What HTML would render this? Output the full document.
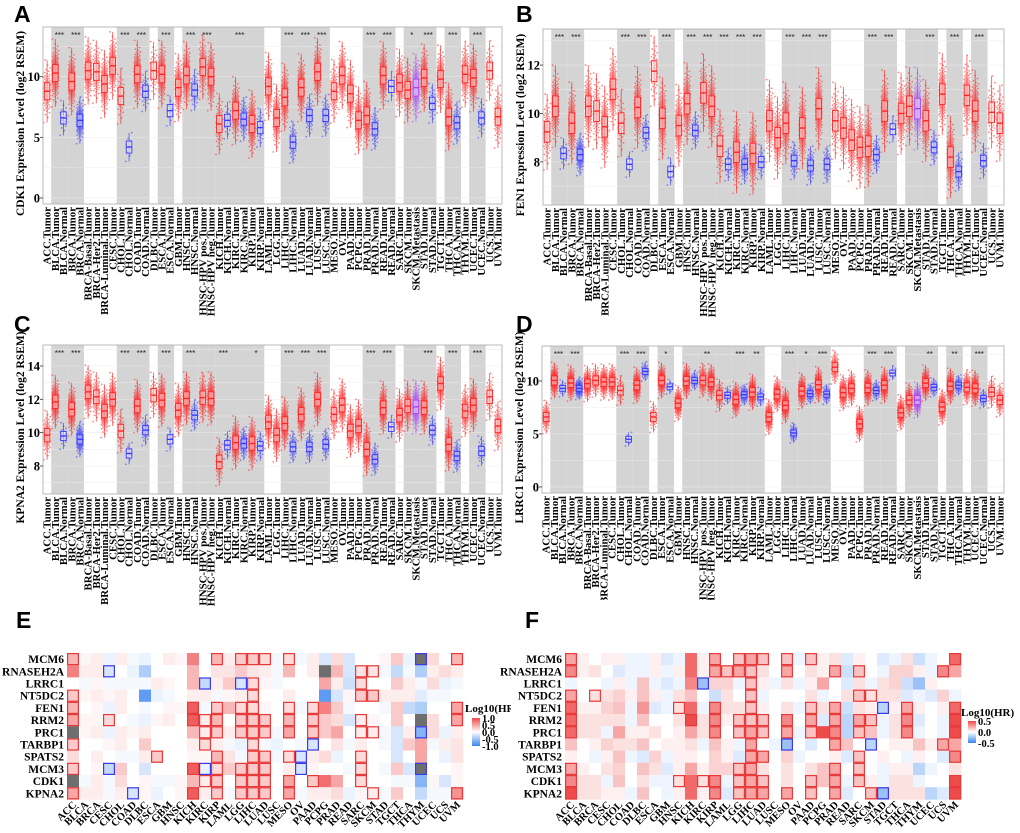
<!DOCTYPE html>
<html><head><meta charset="utf-8"><style>
html,body{margin:0;padding:0;background:#fff;}
svg{display:block;}
.lab{font-family:"Liberation Serif",serif;font-weight:bold;}
.pl{font-family:"Liberation Sans",sans-serif;font-weight:bold;font-size:23px;}
</style></head><body>
<svg id="fig" width="1020" height="833" viewBox="0 0 1020 833" xmlns="http://www.w3.org/2000/svg">
<rect width="1020" height="833" fill="#fff"/>
</svg>
<script>
const cats=["ACC.Tumor","BLCA.Tumor","BLCA.Normal","BRCA.Tumor","BRCA.Normal","BRCA-Basal.Tumor","BRCA-Her2.Tumor","BRCA-Luminal.Tumor","CESC.Tumor","CHOL.Tumor","CHOL.Normal","COAD.Tumor","COAD.Normal","DLBC.Tumor","ESCA.Tumor","ESCA.Normal","GBM.Tumor","HNSC.Tumor","HNSC.Normal","HNSC-HPV pos.Tumor","HNSC-HPV neg.Tumor","KICH.Tumor","KICH.Normal","KIRC.Tumor","KIRC.Normal","KIRP.Tumor","KIRP.Normal","LAML.Tumor","LGG.Tumor","LIHC.Tumor","LIHC.Normal","LUAD.Tumor","LUAD.Normal","LUSC.Tumor","LUSC.Normal","MESO.Tumor","OV.Tumor","PAAD.Tumor","PCPG.Tumor","PRAD.Tumor","PRAD.Normal","READ.Tumor","READ.Normal","SARC.Tumor","SKCM.Tumor","SKCM.Metastasis","STAD.Tumor","STAD.Normal","TGCT.Tumor","THCA.Tumor","THCA.Normal","THYM.Tumor","UCEC.Tumor","UCEC.Normal","UCS.Tumor","UVM.Tumor"];
const nSamples=[79,408,19,1093,112,190,82,566,304,36,9,457,41,48,184,11,153,520,44,97,421,66,25,533,72,290,32,173,516,371,50,515,59,501,51,87,303,178,179,497,52,166,10,259,103,368,415,35,150,501,59,120,545,35,57,80];
const medA=[8.8,10.3,6.6,9.6,6.4,10.5,10.4,9.4,10.9,8.4,4.2,10.2,8.8,10.5,10.2,7.2,9.1,10.1,8.9,10.8,10.0,6.1,6.4,7.2,6.5,6.1,5.8,9.2,6.6,8.3,4.6,9.1,6.8,10.4,6.8,8.8,10.1,8.6,6.4,6.8,5.7,10.1,9.2,9.5,8.9,9.1,9.9,7.8,9.8,6.7,6.2,10.2,9.9,6.6,10.5,6.7];
const medB=[9.24,10.3,8.35,9.6,8.3,10.3,10.1,9.45,11.0,9.6,7.9,10.25,9.2,11.75,9.8,7.6,9.5,10.4,9.3,10.85,10.3,8.65,7.9,8.4,7.9,8.35,8.0,9.7,9.0,9.6,8.05,9.4,7.85,10.2,7.9,9.7,9.4,8.9,8.6,8.65,8.3,10.1,9.35,10.0,10.3,10.2,9.7,8.6,10.8,8.2,7.6,10.75,10.1,8.05,10.05,9.6];
const medC=[9.85,11.85,9.8,11.4,9.6,12.45,12.15,11.3,12.0,10.1,8.75,11.6,10.15,12.25,11.95,9.6,11.35,12.05,11.05,12.1,12.05,8.25,9.25,9.4,9.35,9.35,9.2,10.65,9.85,10.55,9.15,11.1,9.15,12.0,9.3,11.1,11.65,10.1,10.4,9.0,8.4,11.5,10.35,11.05,11.6,11.55,11.5,10.15,12.95,9.3,8.6,11.3,11.65,8.9,12.15,10.4];
const medD=[6.6,10.05,9.3,9.8,9.3,9.75,10.05,9.9,9.9,9.1,4.5,9.6,10.9,6.6,10.05,9.45,7.9,10.0,10.05,10.05,9.9,8.65,8.65,8.25,8.7,8.95,8.5,6.6,8.75,7.7,5.1,9.05,8.8,9.65,8.75,11.3,8.9,9.3,5.95,9.35,9.1,9.6,10.75,7.0,8.2,8.2,9.8,9.4,7.55,9.5,9.6,9.4,9.3,8.35,8.95,8.2];
const bands=[1,3,9,11,14,17,19,21,23,25,29,31,33,39,41,44,46,49,52];
const starsA=["***","***","***","***","***","***","***","","***","","***","***","***","***","***","*","***","***","***"];
const starsB=["***","***","***","***","***","***","***","***","***","***","***","***","***","***","***","","***","***","***"];
const starsC=["***","***","***","***","***","***","","***","","*","***","***","***","***","***","","***","***","***"];
const starsD=["***","***","***","***","*","","**","","***","**","***","*","***","***","***","","**","**","***"];
const ticksA=[0,5,10], ticksB=[8,10,12], ticksC=[8,10,12,14], ticksD=[0,5,10];

const hmCols=["ACC","BLCA","BRCA","CESC","CHOL","COAD","DLBC","ESCA","GBM","HNSC","KICH","KIRC","KIRP","LAML","LGG","LIHC","LUAD","LUSC","MESO","OV","PAAD","PCPG","PRAD","READ","SARC","SKCM","STAD","TGCT","THCA","THYM","UCEC","UCS","UVM"];
const hmRows=["MCM6","RNASEH2A","LRRC1","NT5DC2","FEN1","RRM2","PRC1","TARBP1","SPATS2","MCM3","CDK1","KPNA2"];
const N=null;
const hrE=[
[.4,.05,.1,-.1,.1,-.05,-.1,0,.1,.05,.7,0,.4,.1,.3,.3,.2,-.05,.2,-.05,.1,-.2,.2,-.2,0,0,.05,.3,-.1,N,.2,0,.4],
[.7,.1,.1,-.2,0,-.1,-.4,0,0,0,.4,0,.15,.15,.3,.15,.1,-.05,.4,0,.1,N,.4,-.2,.15,.15,-.05,-.3,-.05,-.4,.1,.2,.1],
[0,-.05,.05,-.05,-.05,-.05,-.05,.1,.05,0,.4,-.3,.1,.3,-.2,.2,.05,-.05,0,0,0,.5,.1,-.25,.2,0,0,.3,.1,-.05,.2,-.1,-.05],
[.3,.05,.1,.05,.1,0,-.8,-.1,-.05,0,.1,.1,-.05,.05,.1,.2,0,0,.1,0,0,-.8,-.2,.05,.3,.3,.1,.1,.1,-.15,-.05,-.05,0],
[.4,0,.05,-.1,.1,0,-.05,0,.05,.05,.9,-.05,.3,.4,.2,.2,.05,0,.2,-.05,.2,.7,.3,-.05,0,0,-.05,.3,-.3,-.4,0,0,.5],
[.5,.05,.05,.2,0,-.05,-.1,.05,.1,0,.9,.1,.4,0,.3,.3,.3,0,.4,0,.3,.3,.2,-.2,.1,.05,0,.3,0,N,.2,0,.5],
[N,.05,.1,-.1,.1,.05,.1,0,0,0,.4,.1,.3,.1,.3,.3,.3,-.05,.5,0,.3,.3,.5,0,.1,.1,-.05,-.2,.1,-.6,.2,-.1,.1],
[.3,0,0,.05,.1,0,.3,0,0,0,.1,.2,.1,-.05,-.1,.2,-.05,-.1,0,-.05,-.2,0,.15,-.05,.1,0,-.05,-.2,.3,.5,-.05,.1,.15],
[.2,0,.1,0,-.05,-.05,.1,.3,0,0,.05,.05,.4,.15,-.05,.3,.3,-.05,.2,-.2,.1,.2,-.1,0,.2,0,0,-.2,0,.5,0,-.1,.15],
[.3,0,.05,-.3,.3,0,-.2,0,0,0,.9,-.1,.2,.3,.3,.3,.3,0,.1,-.2,.05,0,0,-.05,.2,0,-.05,.3,-.2,N,0,0,.05],
[N,-.05,.1,-.05,.2,0,.05,-.05,-.05,.05,.4,.1,.3,0,.3,.3,.3,0,.5,0,.3,.8,.5,0,.2,0,0,-.05,-.05,-.6,.05,-.2,.05],
[.5,.1,.1,-.05,.1,-.2,.05,-.1,0,.05,.9,.1,.3,-.05,.3,.3,.3,0,.5,-.05,.1,.1,.2,-.1,.05,.1,-.05,.3,0,-.3,-.05,-.05,.6]];
const sigRedE=[[0,12,14,15,16,18,32],[24,25],[15,24],[0,15,24,25],[0,10,12,14,15,18,20,32],[0,3,10,11,12,14,15,16,18,20,24,32],[11,12,14,15,16,18,20,24,25],[0,11,15],[7,12,15,16,18,24],[0,10,12,14,15,16,24],[11,12,14,15,16,18,20,24],[0,10,12,14,15,16,18,25,32]];
const sigBlueE=[[29],[3],[11,14],[],[],[],[29],[20],[19],[3,11,19,29],[],[5]];
const hrF=[
[.3,.05,0,.05,.05,-.05,-.05,.05,-.1,-.05,.5,.05,.3,0,.2,.3,.2,0,.2,-.05,.2,.05,.1,-.1,.05,0,-.1,-.05,.1,-.15,-.05,0,.5],
[.4,.05,.1,0,-.1,-.05,-.05,.05,-.05,.05,.5,.05,.3,.2,.3,.2,.1,0,.3,0,.1,.05,.3,-.15,.2,0,-.05,.15,.15,.05,-.05,.4,.3],
[-.05,0,0,-.05,.05,-.05,.2,-.05,-.1,-.05,.4,-.3,.15,.15,-.05,.2,.05,-.05,.1,-.05,.05,.3,0,-.1,.1,-.05,.1,.15,-.15,-.3,.05,0,0],
[.3,0,.1,.1,.15,.05,.2,.05,-.05,.1,.2,0,-.15,.1,0,.2,-.05,0,0,0,.1,-.05,0,.1,.2,.1,.1,.1,-.1,-.05,-.1,.15,-.05],
[.5,.05,.05,.15,.2,-.05,.35,-.1,-.05,.1,.5,-.05,.4,.1,.1,.2,.05,0,.1,-.05,.2,.1,.3,-.15,.1,.05,-.2,.05,.3,.05,0,.05,.5],
[.5,.1,.1,.1,.1,-.05,.2,0,0,.1,.6,.1,.4,.05,.2,.2,.2,0,.4,0,.3,-.1,.3,-.2,.3,.2,-.05,.1,.4,-.1,0,-.05,.6],
[.5,.1,.1,-.05,.3,.05,.05,.1,0,.05,.3,.1,.4,0,.2,.3,.2,0,.3,-.05,.2,.6,.4,-.2,.2,.2,-.05,.1,.4,-.05,0,-.05,.7],
[.2,0,.05,.15,.1,.1,.2,0,.05,.05,.1,-.05,.2,.05,-.05,.3,0,-.05,-.3,0,-.1,0,.3,.2,0,-.2,0,.05,.05,.2,.05,.3,.3],
[.05,0,-.05,.05,.2,-.05,-.1,.15,-.05,.05,.05,0,.15,.05,-.1,.3,.3,0,.15,-.05,0,0,.05,-.1,.2,0,.05,0,-.05,.05,0,-.1,.4],
[.3,.05,0,.1,.15,0,.2,.1,-.1,.05,.3,.05,.15,.15,.2,.3,.1,0,.1,0,.1,.2,.3,0,.2,0,-.05,.05,.05,-.2,-.05,0,.1],
[.4,.1,.1,-.05,.2,0,.1,-.05,-.05,.1,.5,.1,.4,-.05,.2,.3,.2,0,.1,0,.2,.2,.3,-.05,.2,.05,-.05,.1,.1,-.05,0,0,.6],
[.6,.1,.1,.05,.05,-.05,.2,0,-.05,.05,.5,.05,.4,-.1,.2,.3,.3,0,.3,0,.2,0,.3,-.1,0,.2,-.3,.1,.1,.1,-.2,-.1,.7]];
const sigRedF=[[0,12,14,15,16,18,20,32],[0,12,13,14,15,18,22,24,31],[15],[0,2,15,24,25],[0,9,12,15,20,22,28,32],[0,10,12,14,15,16,18,20,22,24,25,28,32],[0,12,14,15,16,18,20,22,24,28,32],[15,22,31],[15,16,24,32],[0,14,15,22,24],[0,9,11,12,14,15,16,20,22,24,32],[0,12,14,15,16,18,20,22,25,32]];
const sigBlueF=[[],[],[11],[],[26],[],[],[18,25],[],[],[],[26]];

const svg=document.getElementById('fig');
const NS='http://www.w3.org/2000/svg';
function mk(tag,attrs,parent){const e=document.createElementNS(NS,tag);for(const k in attrs)e.setAttribute(k,attrs[k]);(parent||svg).appendChild(e);return e;}
function txt(s,attrs,parent){const e=mk('text',attrs,parent);e.textContent=s;return e;}
function zq(p){return 4.91*(Math.pow(p,0.14)-Math.pow(1-p,0.14));}

function boxPanel(cfg){
  const g=mk('g',{});
  
  
  const {x0,x1,y0,y1,vmin,vmax}=cfg;
  const bw=(x1-x0)/cats.length;
  const xs=i=>x0+(i+0.5)*bw;
  const ys=v=>y1-(v-vmin)/(vmax-vmin)*(y1-y0);
  mk('rect',{x:x0,y:y0,width:x1-x0,height:y1-y0,fill:'#fff'},g);
  bands.forEach(b=>{mk('rect',{x:x0+b*bw,y:y0,width:2*bw,height:y1-y0,fill:'#d4d4d4'},g);});
  const step=cfg.ticks[1]-cfg.ticks[0];
  for(let v=Math.ceil(vmin/(step/2))*(step/2);v<=vmax;v+=step/2){
    mk('line',{x1:x0,x2:x1,y1:ys(v),y2:ys(v),stroke:'#ececec','stroke-width':0.6,opacity:0.8},g);
  }
  cats.forEach((c,i)=>{
    const col=c.endsWith('Normal')?'#3a3aff':(c.endsWith('Metastasis')?'#a845f0':'#ff2424');
    const iqr=c.endsWith('Normal')?cfg.iqrN:cfg.iqrT;
    const sd=iqr/1.35;
    const m=Math.min(nSamples[i],150);
    const med=cfg.med[i];
    let lo=1e9,hi=-1e9;
    for(let k=0;k<m;k++){
      const p=(k+0.5)/m;
      let z=zq(p); z=Math.max(-2.8,Math.min(2.8,z));
      const v=Math.max(vmin,Math.min(vmax,med+sd*z));
      lo=Math.min(lo,v);hi=Math.max(hi,v);
      const jx=(((k*0.6180339)%1)-0.5)*bw*0.8;
      mk('circle',{cx:xs(i)+jx,cy:ys(v),r:0.9,fill:col,opacity:0.55},g);
    }
    const q1=med-iqr/2,q3=med+iqr/2;
    const wl=Math.max(lo,q1-1.5*iqr),wh=Math.min(hi,q3+1.5*iqr);
    mk('line',{x1:xs(i),x2:xs(i),y1:ys(wh),y2:ys(wl),stroke:col,'stroke-width':0.8,opacity:0.8},g);
    const box=mk('rect',{x:xs(i)-bw*0.34,y:ys(q3),width:bw*0.68,height:ys(q1)-ys(q3),fill:'#ffffff','fill-opacity':0.45,stroke:col,'stroke-width':0.9},g);
    
    
    mk('line',{x1:xs(i)-bw*0.34,x2:xs(i)+bw*0.34,y1:ys(med),y2:ys(med),stroke:col,'stroke-width':1.4},g);
    const t=txt(c,{class:'lab','font-size':10.8,'text-anchor':'end',transform:`translate(${xs(i)+3.6},${y1+3}) rotate(-90)`,fill:'#000'},g);
    
    
  });
  bands.forEach((b,j)=>{ if(cfg.stars[j]) txt(cfg.stars[j],{x:x0+(b+1)*bw,y:y0+11,'font-size':8,'text-anchor':'middle','font-family':'Liberation Sans,sans-serif',fill:'#222'},g);});
  mk('rect',{x:x0,y:y0,width:x1-x0,height:y1-y0,fill:'none',stroke:'#b8b8b8','stroke-width':1},g);
  cfg.ticks.forEach(v=>{
    mk('line',{x1:x0-3,x2:x0,y1:ys(v),y2:ys(v),stroke:'#333','stroke-width':0.8},g);
    const t=txt(String(v),{class:'lab',x:x0-3,y:ys(v)+4.5,'font-size':12.5,'text-anchor':'end'},g);
    
    
  });
  const yt=txt(cfg.ylabel,{class:'lab','font-size':11.5,'text-anchor':'middle',transform:`translate(${x0-19},${(y0+y1)/2+8}) rotate(-90)`},g);
  
  
  const pl=txt(cfg.letter,{class:'pl',x:cfg.lx,y:cfg.ly},g);
  
  
}

boxPanel({name:'panel-a-cdk1-boxplot',letter:'A',lx:14,ly:22,x0:43,x1:502,y0:27,y1:204,vmin:-0.5,vmax:14.1,ticks:ticksA,med:medA,stars:starsA,iqrT:1.4,iqrN:1.0,ylabel:'CDK1 Expression Level (log2 RSEM)'});
boxPanel({name:'panel-b-fen1-boxplot',letter:'B',lx:516,ly:22,x0:543,x1:1004,y0:29,y1:205,vmin:6.22,vmax:13.49,ticks:ticksB,med:medB,stars:starsB,iqrT:0.85,iqrN:0.45,ylabel:'FEN1 Expression Level (log2 RSEM)'});
boxPanel({name:'panel-c-kpna2-boxplot',letter:'C',lx:14,ly:332,x0:43,x1:502,y0:345,y1:494,vmin:6.32,vmax:15.26,ticks:ticksC,med:medC,stars:starsC,iqrT:0.8,iqrN:0.55,ylabel:'KPNA2 Expression Level (log2 RSEM)'});
boxPanel({name:'panel-d-lrrc1-boxplot',letter:'D',lx:516,ly:332,x0:542,x1:1004,y0:346,y1:493,vmin:-0.57,vmax:13.3,ticks:ticksD,med:medD,stars:starsD,iqrT:0.85,iqrN:0.55,ylabel:'LRRC1 Expression Level (log2 RSEM)'});

function colr(v,sc){
  const t=Math.max(-1,Math.min(1,v/sc));
  if(t>=0){return `rgb(${255-t*17},${255-t*180},${255-t*180})`;}
  const a=-t;return `rgb(${255-a*200},${255-a*125},${255-a*15})`;
}
function heat(cfg){
  const g=mk('g',{});
  
  
  if(cfg.clip){mk('rect',{x:cfg.clip,y:600,width:1020-cfg.clip,height:233,fill:'#fff'},g);}
  const cw=12,ch=12.2;
  const xs=j=>cfg.x0+j*cw, ys=i=>cfg.y0+i*ch;
  cfg.data.forEach((row,i)=>row.forEach((v,j)=>{
    const c=mk('rect',{x:xs(j),y:ys(i),width:cw+0.3,height:ch+0.3,fill:v===null?'#6e6e6e':colr(v,cfg.sc)},g);
    
    
  }));
  const outline=(i,j,col)=>mk('rect',{x:xs(j)+0.6,y:ys(i)+0.6,width:cw-1.2,height:ch-1.2,fill:'none',stroke:col,'stroke-width':1.2},g);
  cfg.red.forEach((arr,i)=>arr.forEach(j=>outline(i,j,'#e83a3a')));
  cfg.blue.forEach((arr,i)=>arr.forEach(j=>outline(i,j,'#3a3ae8')));
  hmRows.forEach((r,i)=>{const t=txt(r,{class:'lab',x:cfg.x0-3,y:ys(i)+ch/2+4,'font-size':11.5,'text-anchor':'end'},g);
    });
  hmCols.forEach((c,j)=>{const t=txt(c,{class:'lab','font-size':10.5,'text-anchor':'end',transform:`translate(${xs(j)+cw/2+4},${cfg.y0+12*ch+6}) rotate(-45)`},g);
    });
  const lt=txt('Log10(HR)',{class:'lab',x:cfg.lgx,y:cfg.lgy,'font-size':11},g);
  
  const gid='grad'+cfg.letter;
  const defs=mk('defs',{},g);const lg=mk('linearGradient',{id:gid,x1:0,y1:0,x2:0,y2:1},defs);
  mk('stop',{offset:'0%','stop-color':'#f04848'},lg);mk('stop',{offset:'50%','stop-color':'#ffffff'},lg);mk('stop',{offset:'100%','stop-color':'#3a84f0'},lg);
  const cb=mk('rect',{x:cfg.lgx+7,y:cfg.cby,width:8,height:cfg.cbh,fill:`url(#${gid})`},g);
  
  cfg.cbt.forEach((t,k)=>{txt(t,{class:'lab',x:cfg.lgx+17,y:cfg.cby+4+k*cfg.cbh/(cfg.cbt.length-1),'font-size':10.5},g);});
  const pl=txt(cfg.letter,{class:'pl',x:cfg.lx,y:628},g);
  
}
heat({name:'panel-e-heatmap',letter:'E',lx:16,x0:67,y0:653,data:hrE,red:sigRedE,blue:sigBlueE,sc:1.0,lgx:465,lgy:712,cby:718,cbh:28,cbt:['1.0','0.5','0.0','-0.5','-1.0']});
heat({name:'panel-f-heatmap',letter:'F',clip:511,lx:525,x0:565,y0:653,data:hrF,red:sigRedF,blue:sigBlueF,sc:0.6,lgx:961,lgy:716,cby:721,cbh:22,cbt:['0.5','0.0','-0.5']});
</script>
</body></html>
